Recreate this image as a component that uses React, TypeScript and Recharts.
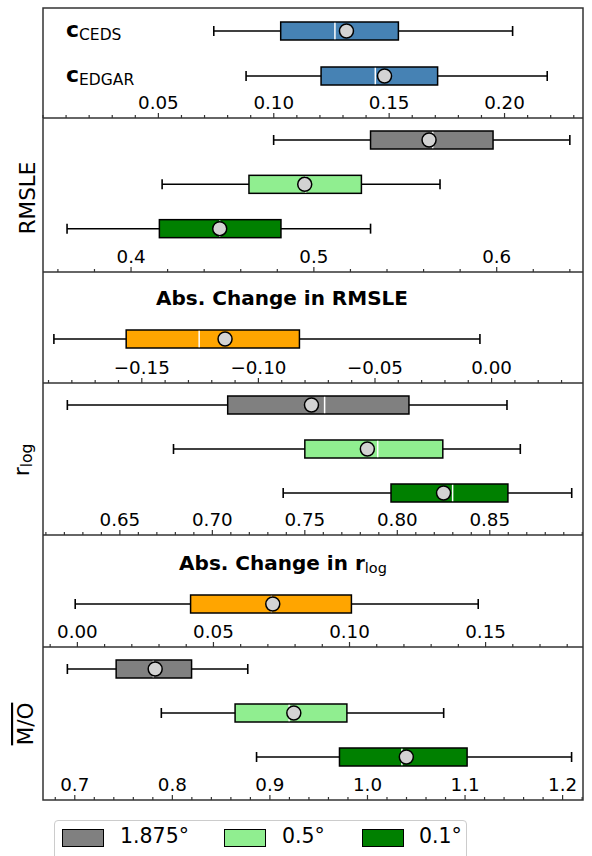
import React from 'react';
import { ComposedChart, Bar, XAxis, YAxis } from 'recharts';

// stats order: whisker low, q1, median, mean, q3, whisker high
const cedsStats = [0.074, 0.103, 0.1265, 0.1315, 0.154, 0.2035];
const edgarStats = [0.088, 0.1205, 0.144, 0.148, 0.171, 0.2185];

const rmsle1875 = [0.478, 0.531, 0.565, 0.563, 0.598, 0.64];
const rmsle05 = [0.417, 0.4645, 0.4955, 0.495, 0.526, 0.569];
const rmsle01 = [0.365, 0.4155, 0.4485, 0.4485, 0.482, 0.531];
const dRmsle = [-0.1877, -0.1567, -0.1254, -0.1143, -0.0824, -0.005];

const rlog1875 = [0.6216, 0.7083, 0.7607, 0.7536, 0.8063, 0.8593];
const rlog05 = [0.679, 0.75, 0.7894, 0.7838, 0.8246, 0.8665];
const rlog01 = [0.7383, 0.7966, 0.8299, 0.825, 0.8598, 0.8943];
const dRlog = [-0.0008, 0.0416, 0.0713, 0.0718, 0.1007, 0.1473];

const mo1875 = [0.6924, 0.7424, 0.7804, 0.7824, 0.8197, 0.8773];
const mo05 = [0.7887, 0.8643, 0.9197, 0.9245, 0.9789, 1.0781];
const mo01 = [0.8863, 0.9713, 1.0353, 1.0398, 1.1021, 1.2092];

const inventories = ['CEDS', 'EDGAR'];
const resolutions = ['1.875°', '0.5°', '0.1°'];
const resColors = ['#808080', '#90ee90', '#008000'];

const cTicks = [0.05, 0.1, 0.15, 0.2];
const rmsleTicks = [0.4, 0.5, 0.6];
const dRmsleTicks = [-0.15, -0.1, -0.05, 0.0];
const rlogTicks = [0.65, 0.7, 0.75, 0.8, 0.85];
const dRlogTicks = [0.0, 0.05, 0.1, 0.15];
const moTicks = [0.7, 0.8, 0.9, 1.0, 1.1, 1.2];

const FONT = 'DejaVu Sans, sans-serif';
const W = 592;
const tops = [8, 118, 272, 383, 535, 647, 800];

const buildTicks = (domain: number[], majors: number[], step: number) => {
  const out: number[] = [];
  const start = Math.ceil(domain[0] / step - 1e-9);
  const end = Math.floor(domain[1] / step + 1e-9);
  for (let i = start; i <= end; i++) out.push(Math.round(i * step * 10000) / 10000);
  majors.forEach(m => { if (!out.some(v => Math.abs(v - m) < 1e-9)) out.push(m); });
  return out.sort((a, b) => a - b);
};

const fmt = (v: number, d: number) => {
  if (Math.abs(v) < 1e-12) return (0).toFixed(d);
  return (v < 0 ? '\u2212' : '') + Math.abs(v).toFixed(d);
};

// axis sits 1px above the frame line (axis height is 1)
const renderXTick = (props: any, majors: number[], decimals: number) => {
  const { x, y, payload } = props;
  const base = y + 1;
  const v = payload.value;
  const isMajor = majors.some(m => Math.abs(m - v) < 1e-9);
  return (
    <g>
      <line x1={x} x2={x} y1={base} y2={base - (isMajor ? 5 : 3)} stroke="#333" strokeWidth={1.2} />
      {isMajor && (
        <text x={x} y={base - 9.5} textAnchor="middle" fontSize={18.3} fontFamily={FONT} fill="#000">
          {fmt(v, decimals)}
        </text>
      )}
    </g>
  );
};

const renderCatTick = (props: any) => {
  const { y, payload } = props;
  return (
    <text x={66} y={y + 6.7} fontFamily={FONT} fill="#000">
      <tspan fontSize={22} fontWeight="bold">c</tspan>
      <tspan fontSize={15.5} dy={3}>{payload.value}</tspan>
    </text>
  );
};

const BoxShape = (props: any) => {
  const { x, y, width, height, payload } = props;
  const [lo, q1, med, mean, q3, hi] = payload.stats;
  const px = (v: number) => x + ((v - lo) / (hi - lo)) * width;
  const cy = y + height / 2;
  return (
    <g>
      <line x1={px(lo)} x2={px(q1)} y1={cy} y2={cy} stroke="#000" strokeWidth={1.5} />
      <line x1={px(q3)} x2={px(hi)} y1={cy} y2={cy} stroke="#000" strokeWidth={1.5} />
      <line x1={px(lo)} x2={px(lo)} y1={cy - 5} y2={cy + 5} stroke="#000" strokeWidth={1.6} />
      <line x1={px(hi)} x2={px(hi)} y1={cy - 5} y2={cy + 5} stroke="#000" strokeWidth={1.6} />
      <rect x={px(q1)} y={y} width={px(q3) - px(q1)} height={height} fill={payload.color} stroke="#000" strokeWidth={1.5} />
      <line x1={px(med)} x2={px(med)} y1={y + 0.8} y2={y + height - 0.8} stroke="#fff" strokeWidth={1.5} />
      <circle cx={px(mean)} cy={cy} r={7} fill="#d3d3d3" stroke="#000" strokeWidth={1.5} />
    </g>
  );
};

interface PanelProps {
  idx: number;
  rows: Array<{ name: string; stats: number[]; color: string }>;
  domain: number[];
  majors: number[];
  minorStep: number;
  decimals: number;
  padTop: number;
  padBottom: number;
  showCats?: boolean;
}

function Panel({ idx, rows, domain, majors, minorStep, decimals, padTop, padBottom, showCats }: PanelProps) {
  const top = tops[idx];
  const height = tops[idx + 1] - top;
  const ticks = buildTicks(domain, majors, minorStep);
  return (
    <div style={{ position: 'absolute', left: 0, top, width: W, height }}>
      <ComposedChart
        width={W}
        height={height}
        data={rows}
        layout="vertical"
        margin={{ top: 0, right: 9, bottom: 0, left: 42 }}
      >
        <XAxis
          type="number"
          domain={domain}
          allowDataOverflow
          ticks={ticks}
          interval={0}
          height={1}
          axisLine={false}
          tickLine={false}
          tickSize={0}
          tickMargin={0}
          tick={(p: any) => renderXTick(p, majors, decimals)}
        />
        <YAxis
          type="category"
          dataKey="name"
          hide={!showCats}
          width={1}
          padding={{ top: padTop, bottom: padBottom - 1 }}
          axisLine={false}
          tickLine={false}
          tick={showCats ? renderCatTick : false}
        />
        <Bar
          dataKey={(d: any) => [d.stats[0], d.stats[5]]}
          barSize={18}
          shape={<BoxShape />}
          isAnimationActive={false}
        />
      </ComposedChart>
    </div>
  );
}

const resRows = (sets: number[][]) =>
  sets.map((s, i) => ({ name: resolutions[i], stats: s, color: resColors[i] }));

export default function App() {
  const cRows = [
    { name: inventories[0], stats: cedsStats, color: '#4682b4' },
    { name: inventories[1], stats: edgarStats, color: '#4682b4' },
  ];
  const dRmsleRows = [{ name: 'd', stats: dRmsle, color: '#ffa500' }];
  const dRlogRows = [{ name: 'd', stats: dRlog, color: '#ffa500' }];

  return (
    <div style={{ position: 'absolute', left: 0, top: 0, width: W, height: 856, overflow: 'hidden', background: '#fff', fontFamily: FONT }}>
      <svg width={W} height={856} style={{ position: 'absolute', left: 0, top: 0 }}>
        <rect x={43} y={tops[0]} width={540} height={tops[6] - tops[0]} fill="none" stroke="#333" strokeWidth={1.5} />
        {tops.slice(1, 6).map(t => (
          <line key={t} x1={43} x2={583} y1={t} y2={t} stroke="#333" strokeWidth={1.5} />
        ))}
        <text transform="translate(35,198) rotate(-90)" textAnchor="middle" fontSize={21.5} fontFamily={FONT} fill="#000">RMSLE</text>
        <text transform="translate(28.5,460) rotate(-90)" textAnchor="middle" fontFamily={FONT} fill="#000">
          <tspan fontSize={22}>r</tspan>
          <tspan fontSize={15.5} dy={3}>log</tspan>
        </text>
        <text transform="translate(33,724) rotate(-90)" textAnchor="middle" fontSize={21.5} fontFamily={FONT} fill="#000" style={{ textDecoration: 'overline' }}>M/O</text>
        <text x={282} y={305} textAnchor="middle" fontSize={20} fontWeight="bold" fontFamily={FONT} fill="#000">Abs. Change in RMSLE</text>
        <text x={283} y={570} textAnchor="middle" fontFamily={FONT} fill="#000">
          <tspan fontSize={20} fontWeight="bold">Abs. Change in r</tspan>
          <tspan fontSize={14.5} dy={3}>log</tspan>
        </text>
      </svg>

      <Panel idx={0} rows={cRows} domain={[0.0, 0.234]} majors={cTicks} minorStep={0.01} decimals={2} padTop={0} padBottom={20} showCats />
      <Panel idx={1} rows={resRows([rmsle1875, rmsle05, rmsle01])} domain={[0.3513, 0.6472]} majors={rmsleTicks} minorStep={0.02} decimals={1} padTop={0} padBottom={21} />
      <Panel idx={2} rows={dRmsleRows} domain={[-0.1928, 0.0392]} majors={dRmsleTicks} minorStep={0.01} decimals={2} padTop={44} padBottom={22} />
      <Panel idx={3} rows={resRows([rlog1875, rlog05, rlog01])} domain={[0.6079, 0.9004]} majors={rlogTicks} minorStep={0.01} decimals={2} padTop={0} padBottom={20} />
      <Panel idx={4} rows={dRlogRows} domain={[-0.013, 0.1858]} majors={dRlogTicks} minorStep={0.01} decimals={2} padTop={47} padBottom={22} />
      <Panel idx={5} rows={resRows([mo1875, mo05, mo01])} domain={[0.6664, 1.2209]} majors={moTicks} minorStep={0.02} decimals={1} padTop={0} padBottom={21} />

      <div style={{ position: 'absolute', left: 54, top: 820, width: 411, height: 48, border: '1px solid #ccc', borderRadius: 4, background: '#fff' }}>
        {resolutions.map((r, i) => {
          const patchX = [7, 169, 307][i];
          const textX = [65, 227, 364][i];
          return (
            <React.Fragment key={r}>
              <div style={{ position: 'absolute', left: patchX, top: 8, width: 40, height: 16, background: resColors[i], border: '1.2px solid #000' }} />
              <div style={{ position: 'absolute', left: textX, top: 1, fontSize: 20.5, lineHeight: '28px', color: '#000', whiteSpace: 'nowrap' }}>{r}</div>
            </React.Fragment>
          );
        })}
      </div>
    </div>
  );
}
